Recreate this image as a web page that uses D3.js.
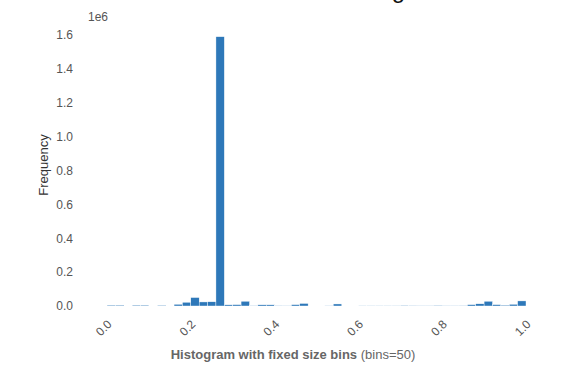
<!DOCTYPE html>
<html>
<head>
<meta charset="utf-8">
<script src="https://cdn.jsdelivr.net/npm/d3@7"></script>
<style>
  html, body { margin: 0; padding: 0; background: #ffffff; }
  svg { display: block; font-family: "Liberation Sans", Arial, sans-serif; }
</style>
</head>
<body>
<svg id="chart" width="573" height="374"></svg>
<script>
// ---- data ----
const binStart = 0.0;
const binEnd = 1.0;
const binCount = 50;
const binCounts = [
  5000, 5000, 0, 5000, 5000, 0, 4000, 0, 10000, 22000,
  50000, 24000, 25000, 1590000, 7000, 8000, 28000, 2000, 7000, 7000,
  2000, 1000, 8000, 15000, 0, 0, 1000, 12000, 0, 0,
  1500, 1500, 1500, 1500, 1500, 3000, 2000, 1000, 1000, 3000,
  1000, 1000, 2000, 8000, 13000, 28000, 8000, 5000, 10000, 30000
];
const xTicks = [0.0, 0.2, 0.4, 0.6, 0.8, 1.0];
const yTicks = [0, 200000, 400000, 600000, 800000, 1000000, 1200000, 1400000, 1600000];
const titleText = "Histogram";
const captionBold = "Histogram with fixed size bins";
const captionNormal = " (bins=50)";
const yLabel = "Frequency";
const offsetLabel = "1e6";

// ---- layout ----
const svg = d3.select("#chart");
const x = d3.scaleLinear().domain([binStart, binEnd]).range([107, 526]);
const y = d3.scaleLinear().domain([0, 1600000]).range([306, 35]);
const binW = (binEnd - binStart) / binCount;

const bins = binCounts.map((v, i) => ({
  x0: binStart + i * binW,
  x1: binStart + (i + 1) * binW,
  v
}));

// bars
svg.append("g")
  .selectAll("rect")
  .data(bins)
  .join("rect")
  .attr("x", d => x(d.x0))
  .attr("width", d => x(d.x1) - x(d.x0))
  .attr("y", d => y(d.v))
  .attr("height", d => y(0) - y(d.v))
  .attr("fill", "#2e78b9")
  .attr("stroke", "#ffffff")
  .attr("stroke-width", 0.4);

// y axis
const yAxis = svg.append("g")
  .attr("transform", "translate(76,0)")
  .call(d3.axisLeft(y).tickValues(yTicks).tickSize(0).tickPadding(3)
    .tickFormat(d => (d / 1e6).toFixed(1)));
yAxis.select(".domain").remove();
yAxis.selectAll("text")
  .attr("fill", "#555555")
  .style("font-size", "12px")
  .style("font-family", "'Liberation Sans', Arial, sans-serif");

// offset text
svg.append("text")
  .attr("x", 88).attr("y", 21)
  .attr("fill", "#555555")
  .style("font-size", "12px")
  .text(offsetLabel);

// x axis
const xAxis = svg.append("g")
  .attr("transform", "translate(0,306)")
  .call(d3.axisBottom(x).tickValues(xTicks).tickSize(0).tickPadding(0)
    .tickFormat(d3.format(".1f")));
xAxis.select(".domain").remove();
xAxis.selectAll(".tick text")
  .attr("fill", "#555555")
  .style("font-size", "12px")
  .style("font-family", "'Liberation Sans', Arial, sans-serif")
  .attr("text-anchor", "end")
  .attr("dy", null)
  .attr("y", null)
  .attr("transform", "translate(5,19) rotate(-45)");

// y label
svg.append("text")
  .attr("transform", "translate(48,165) rotate(-90)")
  .attr("text-anchor", "middle")
  .attr("fill", "#333333")
  .style("font-size", "13px")
  .text(yLabel);

// caption
const cap = svg.append("text")
  .attr("x", 293).attr("y", 359)
  .attr("text-anchor", "middle")
  .attr("fill", "#666666")
  .style("font-size", "13px");
cap.append("tspan").attr("font-weight", "bold").text(captionBold);
cap.append("tspan").text(captionNormal);

// title (cut off at top, as in the reference)
svg.append("text")
  .attr("x", 337).attr("y", -2)
  .attr("fill", "#111111")
  .style("font-size", "24px")
  .text(titleText);
</script>
</body>
</html>
